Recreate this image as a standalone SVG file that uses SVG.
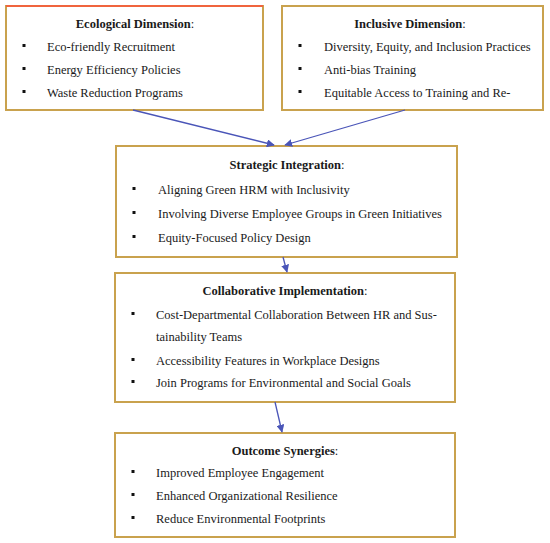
<svg xmlns="http://www.w3.org/2000/svg" width="550" height="543" viewBox="0 0 550 543">
<style>
.box{fill:#ffffff;stroke:#C9A24E;stroke-width:2}
.t{font-family:"Liberation Serif","DejaVu Serif",serif;font-size:12.5px;fill:#1a1a1a}
.h{font-weight:bold;text-anchor:middle}
.n{font-weight:normal}
.b{fill:#111}
.c{stroke:#4A55B8;stroke-width:1.3;fill:none;marker-end:url(#ah)}
</style>
<defs>
<marker id="ah" viewBox="0 0 10 10" refX="9" refY="5" markerWidth="8" markerHeight="8" markerUnits="userSpaceOnUse" orient="auto">
<path d="M0,0 L10,5 L0,10 z" fill="#4A55B8"/>
</marker>
</defs>
<g id="ecological">
<rect class="box" x="6" y="6" width="257" height="104"/>
<line x1="6" y1="6" x2="263" y2="6" stroke="#F0643E" stroke-width="2"/>
<text class="t h" x="135" y="28">Ecological Dimension<tspan class="n">:</tspan></text>
<rect class="b" x="22.5" y="44" width="3" height="3"/>
<text class="t" x="47" y="51">Eco-friendly Recruitment</text>
<rect class="b" x="22.5" y="67" width="3" height="3"/>
<text class="t" x="47" y="74">Energy Efficiency Policies</text>
<rect class="b" x="22.5" y="90" width="3" height="3"/>
<text class="t" x="47" y="97">Waste Reduction Programs</text>
</g>
<g id="inclusive">
<rect class="box" x="282" y="6" width="261" height="104"/>
<text class="t h" x="410" y="28">Inclusive Dimension<tspan class="n">:</tspan></text>
<rect class="b" x="298.5" y="44" width="3" height="3"/>
<text class="t" x="324" y="51">Diversity, Equity, and Inclusion Practices</text>
<rect class="b" x="298.5" y="67" width="3" height="3"/>
<text class="t" x="324" y="74">Anti-bias Training</text>
<rect class="b" x="298.5" y="90" width="3" height="3"/>
<text class="t" x="324" y="97">Equitable Access to Training and Re-</text>
</g>
<g id="strategic">
<rect class="box" x="116" y="146" width="341" height="111"/>
<text class="t h" x="287" y="169">Strategic Integration<tspan class="n">:</tspan></text>
<rect class="b" x="132.5" y="187" width="3" height="3"/>
<text class="t" x="158" y="194">Aligning Green HRM with Inclusivity</text>
<rect class="b" x="132.5" y="211" width="3" height="3"/>
<text class="t" x="158" y="218">Involving Diverse Employee Groups in Green Initiatives</text>
<rect class="b" x="132.5" y="235" width="3" height="3"/>
<text class="t" x="158" y="242">Equity-Focused Policy Design</text>
</g>
<g id="collaborative">
<rect class="box" x="115" y="273" width="340" height="129"/>
<text class="t h" x="285" y="295">Collaborative Implementation<tspan class="n">:</tspan></text>
<rect class="b" x="131.5" y="312" width="3" height="3"/>
<text class="t" x="156" y="319">Cost-Departmental Collaboration Between HR and Sus-</text>
<text class="t" x="156" y="341">tainability Teams</text>
<rect class="b" x="131.5" y="358" width="3" height="3"/>
<text class="t" x="156" y="365">Accessibility Features in Workplace Designs</text>
<rect class="b" x="131.5" y="380" width="3" height="3"/>
<text class="t" x="156" y="387">Join Programs for Environmental and Social Goals</text>
</g>
<g id="outcome">
<rect class="box" x="115" y="433" width="340" height="104"/>
<text class="t h" x="285" y="455">Outcome Synergies<tspan class="n">:</tspan></text>
<rect class="b" x="131.5" y="470" width="3" height="3"/>
<text class="t" x="156" y="477">Improved Employee Engagement</text>
<rect class="b" x="131.5" y="493" width="3" height="3"/>
<text class="t" x="156" y="500">Enhanced Organizational Resilience</text>
<rect class="b" x="131.5" y="516" width="3" height="3"/>
<text class="t" x="156" y="523">Reduce Environmental Footprints</text>
</g>
<g id="connectors">
<line class="c" x1="133" y1="110" x2="274" y2="145"/>
<line class="c" x1="405" y1="110" x2="285" y2="145"/>
<line class="c" x1="283" y1="257" x2="287" y2="272"/>
<line class="c" x1="275" y1="402" x2="282" y2="432"/>
</g>
</svg>
